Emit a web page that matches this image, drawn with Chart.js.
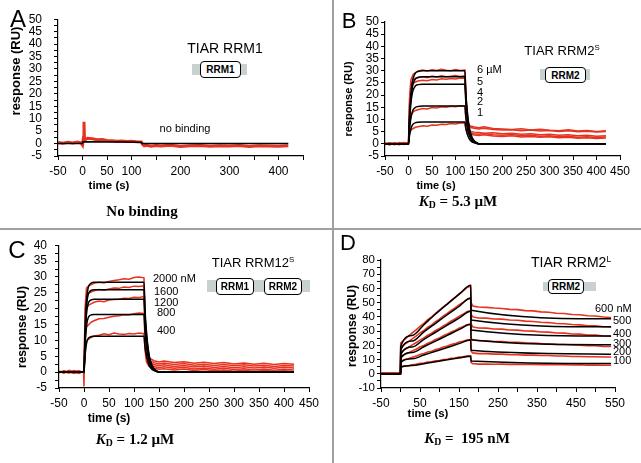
<!DOCTYPE html>
<html>
<head>
<meta charset="utf-8">
<script src="https://cdn.jsdelivr.net/npm/chart.js@4.4.0/dist/chart.umd.min.js"></script>
<style>
body { margin: 0; background: #fff; }
#fig { position: relative; width: 641px; height: 463px; overflow: hidden; font-family: "Liberation Sans", Arial, sans-serif; color: #000; }
canvas { position: absolute; }
.t { position: absolute; transform: translate(-50%, -50%); white-space: nowrap; line-height: 1; }
.l { position: absolute; white-space: nowrap; line-height: 1; transform: translateY(-50%); font-size: 11px; }
.yt { position: absolute; white-space: nowrap; line-height: 1; font-weight: bold; transform: translate(-50%, -50%) rotate(-90deg); }
.xt { font-weight: bold; }
.cap { font-family: "Liberation Serif", "Times New Roman", serif; font-weight: bold; font-size: 15px; }
.bar { position: absolute; background: #c8d0d0; }
.dom { position: absolute; border: 1.5px solid #000; border-radius: 4px; background: #fff; font-weight: bold; font-size: 10px; display: flex; align-items: center; justify-content: center; box-sizing: border-box; }
.sep { position: absolute; background: #a0a0a0; }
sup { font-size: 0.6em; vertical-align: 0.55em; }
sub { font-size: 0.65em; vertical-align: -0.25em; }
</style>
</head>
<body>
<div id="fig">
  <div class="sep" style="left:332px;top:0;width:1.5px;height:463px"></div>
  <div class="sep" style="left:0;top:228px;width:641px;height:1.5px"></div>

  <canvas id="chartA"></canvas>
  <canvas id="chartB"></canvas>
  <canvas id="chartC"></canvas>
  <canvas id="chartD"></canvas>

  <!-- panel A -->
  <div class="t" style="left:18px;top:19px;font-size:24px">A</div>
  <div class="yt" style="left:15px;top:71px;font-size:13px">response (RU)</div>
  <div class="t xt" style="left:109px;top:186px;font-size:11.5px">time (s)</div>
  <div class="t" style="left:225px;top:48px;font-size:14px">TIAR RRM1</div>
  <div class="bar" style="left:192px;top:64px;width:55px;height:11px"></div>
  <div class="dom" style="left:200px;top:61px;width:41px;height:17px">RRM1</div>
  <div class="t" style="left:185px;top:128px;font-size:11px">no binding</div>
  <div class="t cap" style="left:142px;top:211px">No binding</div>

  <!-- panel B -->
  <div class="t" style="left:349px;top:21px;font-size:22px">B</div>
  <div class="yt" style="left:348px;top:99px;font-size:11px">response (RU)</div>
  <div class="t xt" style="left:436px;top:185px;font-size:11px">time (s)</div>
  <div class="t" style="left:562px;top:50px;font-size:13px">TIAR RRM2<sup>S</sup></div>
  <div class="bar" style="left:540px;top:69px;width:50px;height:11px"></div>
  <div class="dom" style="left:545px;top:67px;width:41px;height:16px">RRM2</div>
  <div class="t cap" style="left:458px;top:202px"><i>K</i><sub>D</sub> = 5.3 µM</div>

  <!-- panel C -->
  <div class="t" style="left:17px;top:250px;font-size:24px">C</div>
  <div class="yt" style="left:22px;top:327px;font-size:12px">response (RU)</div>
  <div class="t xt" style="left:109px;top:418px;font-size:12px">time (s)</div>
  <div class="t" style="left:253px;top:262px;font-size:13px">TIAR RRM12<sup>S</sup></div>
  <div class="bar" style="left:207px;top:280px;width:103px;height:12px"></div>
  <div class="dom" style="left:216px;top:278px;width:38px;height:17px">RRM1</div>
  <div class="dom" style="left:264px;top:278px;width:38px;height:17px">RRM2</div>
  <div class="t cap" style="left:135px;top:440px"><i>K</i><sub>D</sub> = 1.2 µM</div>

  <!-- panel D -->
  <div class="t" style="left:348px;top:243px;font-size:22px">D</div>
  <div class="yt" style="left:352px;top:326px;font-size:12px">response (RU)</div>
  <div class="t xt" style="left:428px;top:414px;font-size:11.5px">time (s)</div>
  <div class="t" style="left:571px;top:262px;font-size:14px">TIAR RRM2<sup>L</sup></div>
  <div class="bar" style="left:543px;top:282px;width:53px;height:9px"></div>
  <div class="dom" style="left:548px;top:279px;width:36px;height:15px">RRM2</div>
  <div class="t cap" style="left:467px;top:439px"><i>K</i><sub>D</sub> =&nbsp; 195 nM</div>
</div>

<script>
// ---- panel A: TIAR RRM1 (no binding) ----
const timeA = [-50, -40, -30, -20, -10, -3, 0, 2, 3, 4, 6, 10, 20, 30, 40, 50, 60, 70, 80, 90, 100, 110, 120, 123, 126, 130, 140, 150, 160, 180, 200, 220, 240, 260, 280, 300, 320, 340, 360, 380, 400, 420];
const redA = [0.4, 0.1, 0.5, 0.2, 0.6, 0.3, -0.6, 2.5, 8.8, 2.2, 1.6, 2.1, 1.9, 1.5, 1.6, 1.2, 1.1, 0.9, 1.0, 0.8, 0.9, 0.7, 0.6, -0.4, -0.9, -0.7, -1.1, -0.8, -1.0, -0.7, -1.2, -0.9, -0.8, -1.1, -0.9, -1.0, -0.8, -1.2, -0.9, -1.0, -1.1, -0.9];
const fitTimeA = [-50, 0, 0.5, 120, 121, 420];
const fitA = [0, 0, 0.7, 0.5, 0, 0];
const xLabelsA = [-50, 0, 50, 100, 200, 300, 400];
const yLabelsA = [-5, 0, 5, 10, 15, 20, 25, 30, 35, 40, 45, 50];

// ---- panel B: TIAR RRM2S, 1-6 uM ----
const timeB = [-50, -40, -30, -20, -10, 0, 2, 5, 10, 15, 20, 30, 40, 50, 60, 70, 80, 90, 100, 110, 120, 122, 125, 130, 140, 150, 160, 180, 200, 220, 240, 260, 280, 300, 320, 340, 360, 380, 400, 420];
const redB6 = [-0.3, 0.2, -0.4, 0.5, 0.1, 0.3, 18, 26.2, 28.6, 29.2, 29.8, 30.3, 29.9, 30.4, 30.1, 30.6, 30.2, 30.0, 30.5, 30.1, 30.3, 21, 10, 7.4, 6.9, 6.6, 7.0, 6.3, 6.1, 5.9, 6.2, 5.7, 6.0, 5.6, 5.4, 5.8, 5.3, 5.5, 5.1, 5.4];
const redB5 = [0.1, -0.5, 0.3, -0.2, 0.4, 0.0, 15, 23.8, 26.3, 26.9, 27.2, 27.5, 27.1, 27.8, 27.4, 27.9, 27.5, 27.7, 28.0, 27.6, 27.9, 19, 9, 6.8, 6.4, 6.1, 6.4, 5.9, 5.7, 5.8, 5.4, 5.7, 5.3, 5.5, 5.1, 5.4, 5.0, 5.2, 4.9, 5.1];
const redB4 = [-0.2, 0.3, 0.0, -0.4, 0.2, 0.1, 13, 21.5, 24.8, 25.4, 25.8, 26.1, 25.9, 26.4, 26.2, 26.7, 26.5, 26.8, 26.6, 27.0, 26.9, 17, 7.5, 5.2, 4.8, 4.6, 4.3, 4.5, 4.1, 4.3, 3.9, 4.1, 3.7, 3.9, 3.5, 3.7, 3.3, 3.5, 3.1, 3.3];
const redB2 = [0.3, -0.1, 0.4, 0.0, -0.3, 0.2, 8, 11.6, 13.1, 13.7, 14.0, 14.5, 14.3, 14.9, 14.7, 15.2, 15.0, 15.4, 15.2, 15.6, 15.5, 10.5, 5.8, 4.5, 4.1, 3.9, 4.2, 3.7, 3.5, 3.8, 3.3, 3.5, 3.1, 3.3, 2.9, 3.1, 2.7, 2.9, 2.6, 2.8];
const redB1 = [0.0, 0.4, -0.3, 0.2, 0.5, 0.1, 4, 5.6, 6.3, 6.8, 7.0, 7.4, 7.2, 7.7, 7.6, 8.0, 7.9, 8.3, 8.1, 8.5, 8.6, 6.2, 4.4, 3.9, 3.6, 3.4, 3.7, 3.2, 3.0, 3.3, 2.8, 3.0, 2.7, 2.9, 2.5, 2.7, 2.3, 2.5, 2.2, 2.4];
const fitTimeB = [-50, 0, 2, 4, 6, 8, 10, 15, 20, 30, 120, 122, 125, 128, 131, 135, 140, 145, 150, 420];
const fitB6 = [0, 0, 10.5, 17.4, 22.2, 25.2, 27, 29.1, 29.7, 30, 30, 21, 13.5, 8.4, 5.1, 2.7, 1.2, 0.5, 0, 0];
const fitB5 = [0, 0, 9.6, 16, 20.4, 23.1, 24.8, 26.7, 27.2, 27.5, 27.5, 19.3, 12.4, 7.7, 4.7, 2.5, 1.1, 0.4, 0, 0];
const fitB4 = [0, 0, 8.6, 14.2, 18.1, 20.6, 22.1, 23.8, 24.3, 24.5, 24.5, 17.2, 11, 6.9, 4.2, 2.2, 1, 0.4, 0, 0];
const fitB2 = [0, 0, 5.4, 9, 11.5, 13, 14, 15, 15.3, 15.5, 15.5, 10.9, 7, 4.3, 2.6, 1.4, 0.6, 0.2, 0, 0];
const fitB1 = [0, 0, 3.2, 5.2, 6.7, 7.6, 8.1, 8.7, 8.9, 9, 9, 6.3, 4, 2.5, 1.5, 0.8, 0.4, 0.1, 0, 0];
const concLabelsB = ['6 µM', '5', '4', '2', '1'];
const xLabelsB = [-50, 0, 50, 100, 150, 200, 250, 300, 350, 400, 450];
const yLabelsB = [-5, 0, 5, 10, 15, 20, 25, 30, 35, 40, 45, 50];

// ---- panel C: TIAR RRM12S, 400-2000 nM ----
const timeC = [-50, -40, -30, -20, -10, -1, 0, 2, 5, 10, 15, 20, 30, 40, 50, 60, 70, 80, 90, 100, 110, 120, 122, 125, 130, 140, 150, 160, 180, 200, 220, 240, 260, 280, 300, 320, 340, 360, 380, 400, 420];
const redC2000 = [0.2, -0.3, 0.6, 0.1, -0.4, 0.3, -4.5, 20, 26.5, 27.3, 27.6, 28.0, 28.3, 28.1, 28.6, 28.9, 29.1, 29.4, 29.3, 29.8, 30.0, 29.7, 18, 7.5, 4.5, 3.6, 3.2, 3.5, 3.0, 3.3, 2.8, 3.1, 2.7, 3.0, 2.6, 2.9, 2.5, 2.8, 2.4, 2.7, 2.5];
const redC1600 = [-0.1, 0.4, -0.2, 0.5, 0.0, 0.2, 0.1, 17, 23.8, 24.9, 25.3, 25.6, 26.0, 25.8, 26.2, 26.5, 26.4, 26.8, 26.7, 27.1, 27.0, 27.2, 16, 6.5, 3.8, 3.0, 2.6, 2.9, 2.4, 2.7, 2.2, 2.5, 2.1, 2.4, 2.0, 2.3, 1.9, 2.2, 1.8, 2.1, 1.9];
const redC1200 = [0.3, 0.0, -0.3, 0.2, 0.4, -0.1, 0.0, 14, 20.2, 21.2, 21.6, 22.0, 22.4, 22.2, 22.7, 22.9, 23.0, 23.3, 23.2, 23.6, 23.5, 23.8, 13, 5.5, 3.2, 2.4, 2.0, 2.3, 1.8, 2.1, 1.6, 1.9, 1.5, 1.8, 1.4, 1.7, 1.3, 1.6, 1.2, 1.5, 1.3];
const redC800 = [-0.2, 0.3, 0.1, -0.4, 0.2, 0.0, 0.2, 10, 14.2, 15.1, 15.8, 16.2, 16.8, 16.9, 17.3, 17.6, 17.8, 18.1, 18.0, 18.4, 18.6, 18.5, 10, 4.5, 2.6, 1.8, 1.4, 1.7, 1.2, 1.5, 1.0, 1.3, 0.9, 1.2, 0.8, 1.1, 0.7, 1.0, 0.6, 0.9, 0.7];
const redC400 = [0.1, -0.2, 0.4, 0.0, -0.3, 0.2, 0.0, 6, 9.8, 10.5, 11.0, 11.4, 11.6, 12.1, 11.8, 12.3, 12.0, 11.9, 12.2, 12.0, 12.3, 12.1, 7, 3.2, 1.8, 1.2, 0.9, 1.1, 0.7, 1.0, 0.5, 0.8, 0.4, 0.7, 0.3, 0.6, 0.2, 0.5, 0.3, 0.4, 0.2];
const fitTimeC = [-50, 0, 2, 4, 6, 8, 10, 15, 20, 30, 120, 122, 125, 128, 131, 135, 140, 145, 150, 420];
const fitC2000 = [0, 0, 12, 20, 24.2, 26.3, 27.3, 28.1, 28.3, 28.3, 28.3, 19.8, 12.7, 7.9, 4.8, 2.5, 1.1, 0.4, 0, 0];
const fitC1600 = [0, 0, 11, 18.4, 22.2, 24.2, 25.1, 25.8, 26, 26, 26, 18.2, 11.7, 7.3, 4.4, 2.3, 1, 0.4, 0, 0];
const fitC1200 = [0, 0, 9.8, 16.3, 19.7, 21.4, 22.2, 22.8, 23, 23, 23, 16.1, 10.4, 6.4, 3.9, 2.1, 0.9, 0.3, 0, 0];
const fitC800 = [0, 0, 7.7, 12.9, 15.6, 16.9, 17.6, 18.1, 18.2, 18.2, 18.2, 12.7, 8.2, 5.1, 3.1, 1.6, 0.7, 0.3, 0, 0];
const fitC400 = [0, 0, 4.8, 8, 9.7, 10.5, 10.9, 11.2, 11.3, 11.3, 11.3, 7.9, 5.1, 3.2, 1.9, 1, 0.5, 0.2, 0, 0];
const concLabelsC = ['2000 nM', '1600', '1200', '800', '400'];
const xLabelsC = [-50, 0, 50, 100, 150, 200, 250, 300, 350, 400, 450];
const yLabelsC = [-5, 0, 5, 10, 15, 20, 25, 30, 35, 40];

// ---- panel D: TIAR RRM2L, 100-600 nM ----
const timeD = [-50, -40, -30, -20, -10, -1, 0, 1, 10, 20, 30, 40, 50, 60, 70, 80, 90, 100, 110, 120, 130, 140, 150, 160, 170, 180, 181, 185, 190, 200, 220, 240, 260, 280, 300, 320, 340, 360, 380, 400, 420, 440, 460, 480, 500, 520, 540];
const redD600 = [0.5, 0.2, 0.7, 0.3, 0.6, 0.4, 0.5, 21.5, 24.1, 26.3, 28.7, 30.9, 33.4, 35.4, 38.0, 40.0, 42.5, 44.7, 47.1, 49.2, 51.6, 53.8, 56.2, 58.1, 60.5, 61.9, 50.0, 47.8, 47.4, 46.9, 46.7, 46.2, 45.9, 45.3, 45.1, 44.4, 44.2, 43.5, 43.3, 42.6, 42.4, 41.7, 41.5, 40.8, 40.6, 39.9, 39.5];
const redD500 = [0.3, 0.6, 0.2, 0.5, 0.7, 0.3, 0.4, 18.0, 20.7, 22.5, 24.6, 26.5, 28.8, 30.4, 32.7, 34.4, 36.7, 38.4, 40.7, 42.4, 44.6, 46.3, 48.5, 50.2, 52.3, 53.0, 42.0, 40.0, 39.7, 39.2, 39.1, 38.5, 38.4, 37.8, 37.6, 37.0, 36.8, 36.2, 36.0, 35.4, 35.2, 34.6, 34.4, 33.8, 33.7, 33.1, 32.9];
const redD400 = [0.6, 0.3, 0.5, 0.2, 0.6, 0.4, 0.3, 14.8, 17.0, 18.5, 20.3, 21.8, 23.7, 25.2, 27.1, 28.5, 30.4, 31.9, 33.7, 35.2, 37.1, 38.5, 40.4, 41.8, 43.6, 44.3, 35.0, 33.0, 32.7, 32.2, 32.1, 31.5, 31.4, 30.8, 30.7, 30.1, 30.0, 29.4, 29.3, 28.7, 28.6, 28.0, 27.9, 27.3, 27.2, 26.6, 26.4];
const redD300 = [0.4, 0.6, 0.2, 0.5, 0.3, 0.6, 0.4, 11.8, 13.5, 14.6, 16.1, 17.3, 18.8, 19.9, 21.5, 22.5, 24.1, 25.2, 26.7, 27.9, 29.4, 30.5, 32.1, 33.1, 34.5, 34.9, 25.0, 23.8, 23.6, 23.2, 23.1, 22.7, 22.6, 22.2, 22.1, 21.7, 21.6, 21.2, 21.1, 20.7, 20.6, 20.2, 20.1, 19.7, 19.7, 19.3, 19.2];
const redD200 = [0.5, 0.3, 0.6, 0.4, 0.2, 0.5, 0.4, 8.8, 10.0, 10.6, 11.7, 12.4, 13.5, 14.2, 15.3, 15.9, 17.1, 17.7, 18.8, 19.5, 20.6, 21.2, 22.3, 22.9, 23.8, 24.1, 16.0, 14.6, 14.5, 14.2, 14.2, 13.8, 13.8, 13.5, 13.4, 13.1, 13.1, 12.8, 12.8, 12.5, 12.5, 12.2, 12.2, 12.0, 12.0, 11.8, 11.8];
const redD100 = [0.3, 0.5, 0.4, 0.6, 0.3, 0.4, 0.5, 5.0, 5.4, 5.7, 6.4, 6.6, 7.3, 7.5, 8.2, 8.4, 9.1, 9.3, 10.0, 10.2, 10.9, 11.1, 11.7, 11.9, 12.4, 12.6, 8.0, 7.0, 7.0, 6.8, 6.9, 6.7, 6.8, 6.6, 6.7, 6.5, 6.6, 6.4, 6.5, 6.3, 6.4, 6.2, 6.3, 6.1, 6.2, 6.0, 6.0];
const fitTimeD = [-50, 0, 0.5, 30, 60, 90, 120, 150, 180, 181, 540];
const fitD600 = [0, 0, 19, 27, 34.5, 42, 49, 55.8, 62.3, 44.7, 38.7];
const fitD500 = [0, 0, 16.5, 23, 29.5, 35.5, 41.5, 47.3, 53.2, 37.8, 33];
const fitD400 = [0, 0, 13.5, 18.8, 24.2, 29.2, 34.2, 39.1, 44, 30.8, 26.5];
const fitD300 = [0, 0, 10.8, 15, 19, 23, 27, 31, 34.8, 24, 20.4];
const fitD200 = [0, 0, 8, 10.5, 13.2, 15.8, 18.5, 21.2, 23.8, 16.5, 13.8];
const fitD100 = [0, 0, 4.5, 5.8, 7.1, 8.4, 9.8, 11.1, 12.4, 9, 7.2];
const concLabelsD = ['600 nM', '500', '400', '300', '200', '100'];
const xLabelsD = [-50, 50, 150, 250, 350, 450, 550];
const yLabelsD = [-10, 0, 10, 20, 30, 40, 50, 60, 70, 80];

const RED = '#e6321f';

// where the concentration labels sit (page px: left, middle)
const concPosB = [[477, 69], [477, 81], [477, 92], [477, 101], [477, 112]];
const concPosC = [[153, 278], [154, 291], [154, 302], [157, 312], [157, 330]];
const concPosD = [[595, 308], [613, 320], [613, 333], [613, 343], [613, 351], [613, 360]];

function pts(times, vals) {
    return times.map((t, i) => ({ x: t, y: vals[i] }));
}

function addLabels(texts, pos) {
    const fig = document.getElementById('fig');
    texts.forEach((txt, i) => {
        const d = document.createElement('div');
        d.className = 'l';
        d.textContent = txt;
        d.style.left = pos[i][0] + 'px';
        d.style.top = pos[i][1] + 'px';
        fig.appendChild(d);
    });
}

function roundTick(v) {
    return Math.round(v * 100) / 100;
}

function makeAxis(min, max, step, shown, pad, size) {
    return {
        type: 'linear',
        min: min,
        max: max,
        ticks: {
            stepSize: step,
            autoSkip: false,
            maxRotation: 0,
            color: '#000',
            padding: pad,
            font: { family: 'Liberation Sans', size: size || 12 },
            callback: v => shown.includes(roundTick(v)) ? String(roundTick(v)) : ''
        },
        grid: { drawOnChartArea: false, drawTicks: true, tickLength: 4, color: '#000', lineWidth: 1 },
        border: { color: '#000', width: 1.2 }
    };
}

// box = canvas rect on the page, area = wanted plot area on the page
function makePanel(id, box, area, xAxis, yAxis, fits, reds, redWidth) {
    const cv = document.getElementById(id);
    cv.width = box.w;
    cv.height = box.h;
    cv.style.left = box.x + 'px';
    cv.style.top = box.y + 'px';

    const datasets = [];
    fits.forEach(f => datasets.push({
        data: pts(f[0], f[1]), borderColor: '#000', borderWidth: 1.5,
        pointRadius: 0, cubicInterpolationMode: 'monotone', order: 0
    }));
    reds.forEach(r => datasets.push({
        data: pts(r[0], r[1]), borderColor: RED, borderWidth: redWidth,
        pointRadius: 0, tension: 0, order: 1
    }));

    xAxis.afterFit = s => { s.height = box.y + box.h - area.b; };
    yAxis.afterFit = s => { s.width = area.l - box.x; };

    return new Chart(cv.getContext('2d'), {
        type: 'line',
        data: { datasets: datasets },
        options: {
            responsive: false,
            animation: false,
            devicePixelRatio: 1,
            layout: { padding: { left: 0, bottom: 0, top: area.t - box.y, right: box.x + box.w - area.r } },
            plugins: { legend: { display: false }, tooltip: { enabled: false } },
            scales: { x: xAxis, y: yAxis }
        }
    });
}

window.addEventListener('DOMContentLoaded', function() {
    Chart.defaults.font.family = 'Liberation Sans';

    makePanel('chartA', { x: 0, y: 0, w: 331, h: 228 }, { l: 58, r: 303, t: 14, b: 156 },
        makeAxis(-50, 450, 50, xLabelsA, 4),
        makeAxis(-5, 50, 2.5, yLabelsA, 12),
        [[fitTimeA, fitA]],
        [[timeA, redA]], 3);

    makePanel('chartB', { x: 333, y: 0, w: 308, h: 228 }, { l: 385, r: 620, t: 22, b: 156 },
        makeAxis(-50, 450, 50, xLabelsB, 4),
        makeAxis(-5, 50, 5, yLabelsB, 2),
        [[fitTimeB, fitB6], [fitTimeB, fitB5], [fitTimeB, fitB4], [fitTimeB, fitB2], [fitTimeB, fitB1]],
        [[timeB, redB6], [timeB, redB5], [timeB, redB4], [timeB, redB2], [timeB, redB1]], 1.5);

    makePanel('chartC', { x: 0, y: 230, w: 331, h: 233 }, { l: 59, r: 309, t: 243, b: 388 },
        makeAxis(-50, 450, 50, xLabelsC, 4),
        makeAxis(-5, 40, 2.5, yLabelsC, 8),
        [[fitTimeC, fitC2000], [fitTimeC, fitC1600], [fitTimeC, fitC1200], [fitTimeC, fitC800], [fitTimeC, fitC400]],
        [[timeC, redC2000], [timeC, redC1600], [timeC, redC1200], [timeC, redC800], [timeC, redC400]], 1.5);

    makePanel('chartD', { x: 333, y: 230, w: 308, h: 233 }, { l: 381, r: 615, t: 260, b: 388 },
        makeAxis(-50, 550, 50, xLabelsD, 4),
        makeAxis(-10, 80, 5, yLabelsD, 2, 11.5),
        [[fitTimeD, fitD600], [fitTimeD, fitD500], [fitTimeD, fitD400], [fitTimeD, fitD300], [fitTimeD, fitD200], [fitTimeD, fitD100]],
        [[timeD, redD600], [timeD, redD500], [timeD, redD400], [timeD, redD300], [timeD, redD200], [timeD, redD100]], 1.6);

    addLabels(concLabelsB, concPosB);
    addLabels(concLabelsC, concPosC);
    addLabels(concLabelsD, concPosD);
});
</script>
</body>
</html>
